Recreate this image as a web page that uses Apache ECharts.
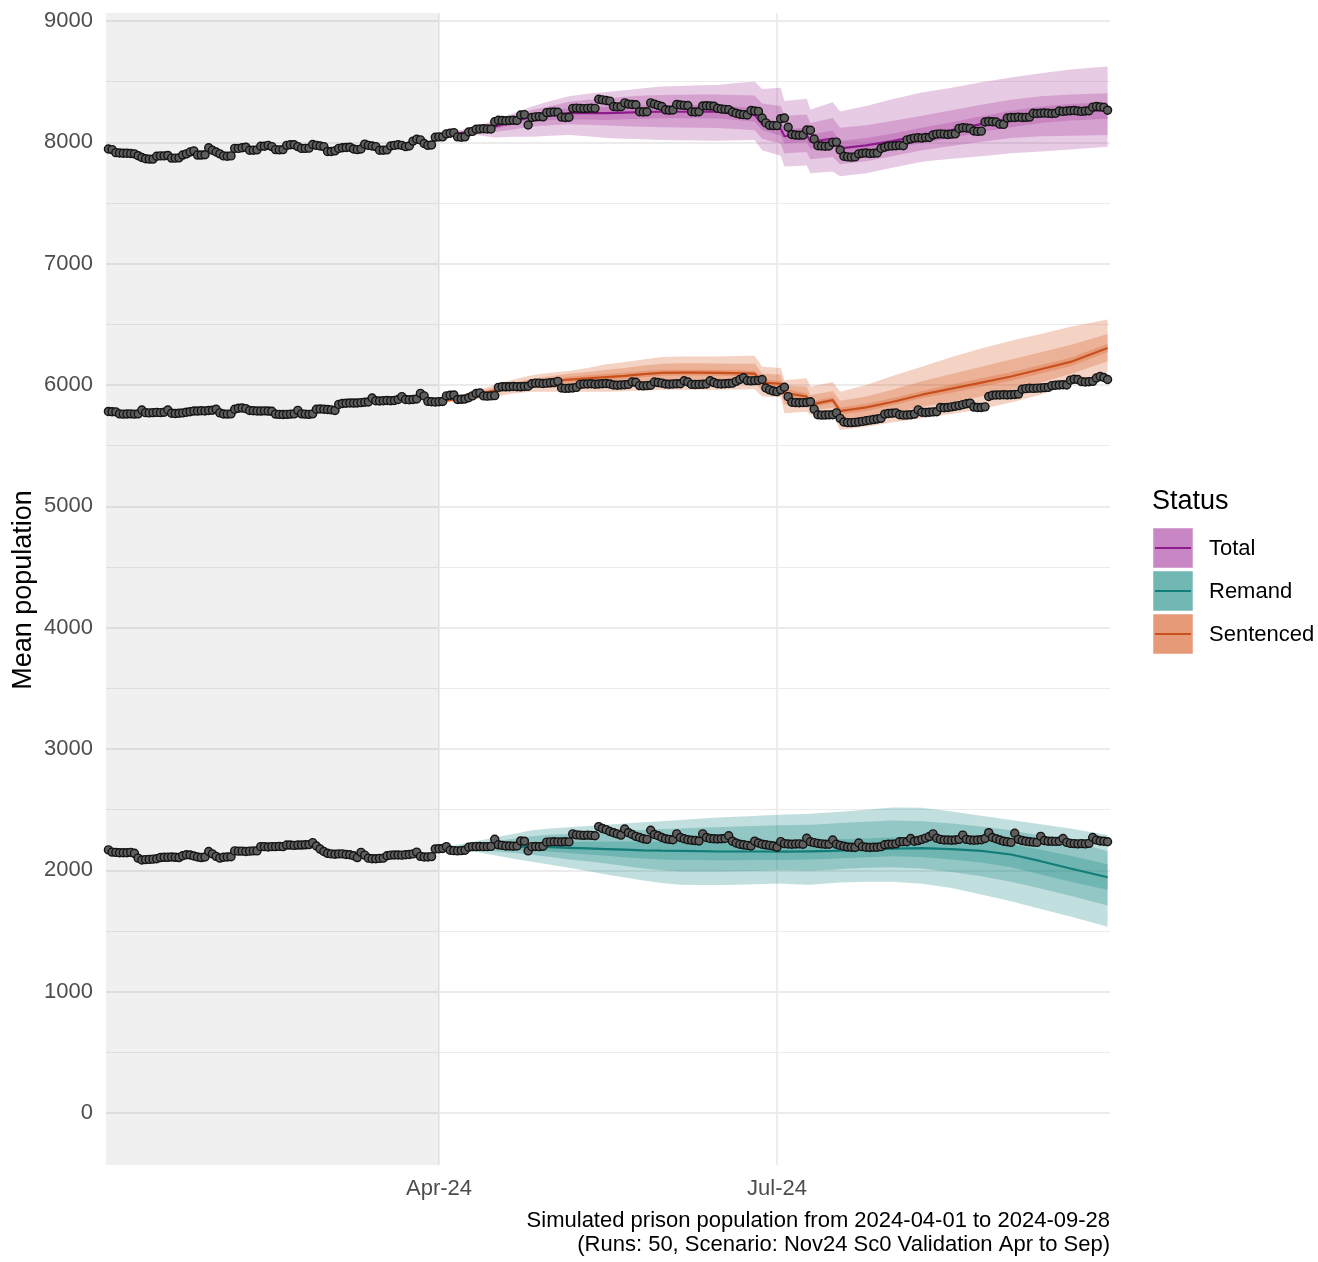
<!DOCTYPE html>
<html>
<head>
<meta charset="utf-8">
<script src="https://cdn.jsdelivr.net/npm/echarts@6/dist/echarts.min.js"></script>
<style>
html,body{margin:0;padding:0;background:#fff;}
#chart{width:1318px;height:1262px;}
</style>
</head>
<body>
<div id="chart"></div>
<script>
// Day index 0 = 2024-01-02 ... 270 = 2024-09-28 (daily observed values)
const startDate = '2024-01-02';
const xTickDays = [90, 181];
const xTickLabels = ['Apr-24', 'Jul-24'];
const yTicks = [0, 1000, 2000, 3000, 4000, 5000, 6000, 7000, 8000, 9000];
const yMinorTicks = [500, 1500, 2500, 3500, 4500, 5500, 6500, 7500, 8500];
const statusNames = ['Total', 'Remand', 'Sentenced'];
const captionLines = ['Simulated prison population from 2024-04-01 to 2024-09-28',
                      '(Runs: 50, Scenario: Nov24 Sc0 Validation Apr to Sep)'];

const obsTotal = [
7854,7945,7940,7915,7912,7910,7910,7908,7905,7890,
7875,7865,7862,7862,7885,7888,7888,7892,7870,7870,
7872,7895,7905,7920,7930,7895,7895,7898,7955,7935,
7920,7905,7888,7885,7888,7950,7950,7955,7960,7935,
7935,7938,7968,7968,7975,7965,7940,7938,7940,7975,
7980,7980,7965,7950,7950,7952,7982,7975,7970,7965,
7925,7925,7930,7950,7955,7958,7960,7945,7940,7945,
7985,7975,7970,7965,7935,7935,7938,7970,7975,7980,
7975,7965,7970,8010,8025,8020,7990,7975,7978,8042,
8045,8045,8070,8075,8080,8045,8042,8045,8085,8090,
8108,8110,8112,8110,8110,8170,8182,8180,8178,8180,
8182,8180,8225,8228,8143,8205,8210,8212,8210,8245,
8248,8250,8248,8208,8205,8207,8280,8282,8280,8278,
8280,8282,8280,8355,8350,8345,8340,8295,8292,8294,
8325,8315,8312,8310,8252,8250,8252,8325,8315,8305,
8295,8268,8265,8267,8312,8308,8305,8303,8252,8250,
8252,8300,8302,8300,8298,8280,8275,8272,8270,8250,
8240,8232,8228,8225,8262,8258,8255,8200,8160,8140,
8138,8138,8195,8200,8124,8065,8060,8058,8060,8102,
8100,8027,7972,7970,7968,7970,8000,8002,7937,7885,
7880,7878,7880,7905,7910,7912,7908,7910,7912,7950,
7960,7968,7970,7972,7975,7972,8020,8028,8035,8038,
8035,8040,8040,8060,8068,8070,8068,8065,8068,8070,
8115,8120,8118,8115,8093,8090,8092,8168,8172,8170,
8168,8150,8148,8200,8205,8205,8208,8205,8206,8208,
8240,8238,8240,8242,8240,8238,8240,8258,8255,8258,
8260,8262,8258,8255,8258,8260,8290,8295,8292,8288,
8265];

const obsSentenced = [
5780,5782,5780,5778,5762,5760,5761,5762,5760,5762,
5794,5772,5770,5772,5774,5772,5775,5794,5767,5765,
5767,5770,5775,5780,5786,5785,5788,5786,5790,5792,
5800,5770,5761,5760,5762,5800,5808,5810,5805,5790,
5788,5786,5785,5787,5785,5783,5760,5758,5757,5758,
5760,5762,5791,5762,5760,5758,5762,5800,5802,5800,
5798,5795,5790,5840,5848,5850,5852,5851,5852,5855,
5858,5860,5893,5870,5868,5870,5872,5870,5872,5880,
5904,5880,5878,5880,5885,5931,5910,5865,5862,5860,
5862,5864,5910,5915,5918,5880,5882,5885,5895,5910,
5930,5935,5910,5908,5910,5912,5980,5986,5985,5986,
5988,5986,5985,5988,5990,6010,6015,6015,6012,6015,
6018,6020,6030,5975,5972,5973,5975,5980,6005,6008,
6008,6010,6006,6008,6010,6012,6008,6000,5998,6000,
6002,6005,6025,6022,5995,5993,5995,5998,6025,6020,
6015,6008,6006,6008,6010,6010,6035,6025,6005,6004,
6005,6006,6008,6035,6020,6010,6008,6010,6012,6015,
6030,6045,6060,6036,6034,6036,6038,6045,5975,5960,
5950,5945,5960,5981,5904,5858,5855,5854,5855,5856,
5862,5800,5755,5752,5753,5754,5755,5770,5725,5695,
5690,5690,5692,5695,5700,5705,5710,5715,5720,5725,
5760,5765,5767,5770,5755,5752,5753,5755,5760,5795,
5775,5773,5775,5778,5780,5815,5812,5815,5820,5825,
5830,5838,5845,5850,5818,5815,5815,5820,5905,5915,
5918,5918,5920,5918,5920,5922,5925,5965,5970,5973,
5972,5974,5975,5978,5980,5995,5998,6000,6002,6000,
6040,6047,6045,6028,6025,6027,6030,6058,6070,6062,
6045];

const obsRemand = [
2085,2168,2150,2148,2145,2145,2145,2148,2140,2100,
2085,2088,2090,2092,2095,2105,2107,2107,2110,2107,
2105,2120,2128,2126,2118,2110,2105,2110,2155,2135,
2115,2100,2108,2110,2112,2160,2158,2158,2155,2158,
2160,2160,2195,2195,2192,2195,2195,2197,2195,2208,
2208,2205,2208,2208,2210,2212,2228,2200,2175,2155,
2140,2135,2132,2135,2135,2130,2128,2120,2105,2148,
2125,2100,2095,2095,2098,2100,2120,2125,2126,2126,
2125,2128,2130,2135,2150,2115,2110,2110,2113,2176,
2178,2180,2195,2165,2162,2160,2162,2165,2190,2195,
2195,2196,2195,2195,2197,2256,2210,2205,2200,2200,
2198,2200,2242,2240,2160,2195,2196,2195,2198,2232,
2234,2235,2234,2233,2235,2234,2300,2292,2290,2288,
2290,2288,2285,2360,2345,2335,2320,2310,2300,2290,
2340,2310,2295,2280,2270,2260,2255,2330,2295,2285,
2270,2260,2255,2252,2300,2270,2260,2252,2248,2245,
2242,2300,2270,2262,2260,2258,2260,2262,2285,2240,
2225,2215,2210,2205,2200,2240,2225,2215,2210,2205,
2200,2190,2236,2220,2217,2215,2217,2218,2215,2264,
2235,2228,2222,2218,2215,2215,2250,2215,2205,2198,
2192,2190,2188,2225,2195,2190,2188,2190,2190,2195,
2210,2215,2215,2218,2235,2236,2235,2262,2240,2245,
2255,2265,2278,2300,2265,2255,2250,2250,2248,2250,
2255,2290,2255,2250,2248,2250,2252,2262,2310,2270,
2260,2250,2240,2235,2230,2305,2255,2245,2240,2235,
2232,2230,2280,2245,2240,2240,2238,2240,2262,2230,
2222,2220,2218,2220,2218,2222,2270,2250,2242,2240,
2235];

// Projection (simulation) summary days
const projDays = [90,95,100,105,110,115,120,125,130,135,140,145,150,155,160,165,170,175,177,182,183,189,190,196,198,205,212,220,228,236,244,252,260,270];

const totMedian  = [8045,8070,8100,8130,8170,8212,8225,8240,8240,8240,8245,8250,8252,8252,8252,8252,8240,8225,8150,8110,8050,8060,8005,8030,7950,7975,8010,8060,8100,8150,8195,8230,8250,8267];
const totOuterLo = [8035,8045,8060,8040,8045,8047,8055,8060,8050,8035,8030,8025,8020,8018,8015,8014,8018,8020,7935,7890,7800,7810,7745,7760,7720,7745,7790,7840,7865,7885,7910,7925,7940,7964];
const totOuterHi = [8055,8095,8130,8185,8240,8295,8340,8380,8400,8415,8430,8445,8460,8465,8470,8473,8490,8500,8440,8450,8340,8360,8270,8330,8255,8300,8355,8410,8450,8495,8535,8570,8600,8625];
const totMidLo   = [8040,8055,8075,8085,8105,8130,8140,8150,8145,8138,8133,8128,8124,8122,8120,8118,8110,8100,8030,7990,7910,7920,7860,7880,7820,7845,7885,7935,7970,8005,8035,8050,8055,8060];
const totMidHi   = [8050,8085,8115,8160,8210,8267,8300,8335,8350,8362,8375,8385,8390,8392,8394,8395,8390,8385,8320,8300,8220,8230,8160,8200,8120,8140,8175,8220,8265,8310,8350,8380,8395,8405];
const totInnerLo = [8043,8062,8088,8110,8145,8175,8185,8188,8188,8185,8190,8195,8198,8198,8198,8196,8185,8170,8100,8055,7990,8000,7945,7965,7890,7915,7950,7995,8035,8085,8125,8160,8180,8195];
const totInnerHi = [8047,8078,8110,8150,8195,8240,8262,8280,8288,8292,8298,8303,8308,8308,8308,8308,8295,8280,8205,8165,8110,8120,8065,8095,8010,8035,8070,8120,8165,8215,8260,8295,8315,8330];

const senMedian  = [5862,5885,5920,5955,5990,6015,6030,6045,6055,6065,6075,6090,6100,6102,6102,6100,6098,6093,6020,6010,5935,5905,5838,5875,5785,5815,5860,5920,5970,6020,6070,6130,6190,6305];
const senOuterLo = [5855,5860,5880,5905,5930,5945,5945,5945,5945,5945,5948,5955,5960,5960,5960,5960,5962,5965,5905,5900,5768,5780,5753,5755,5630,5655,5690,5725,5760,5800,5855,5920,6010,6110];
const senOuterHi = [5870,5910,5955,6000,6045,6080,6100,6115,6140,6170,6190,6210,6230,6235,6235,6235,6238,6240,6150,6140,6040,6055,5985,6025,5945,6000,6075,6150,6230,6300,6365,6420,6480,6540];
const senMidLo   = [5858,5872,5900,5930,5960,5978,5980,5985,5990,5995,6000,6010,6020,6022,6022,6020,6020,6020,5950,5945,5840,5835,5790,5810,5700,5730,5770,5820,5860,5905,5960,6020,6090,6195];
const senMidHi   = [5866,5898,5940,5980,6020,6050,6072,6092,6108,6125,6140,6160,6175,6180,6180,6178,6176,6175,6095,6085,5995,5985,5915,5950,5870,5905,5960,6030,6090,6150,6210,6270,6330,6420];
const senInnerLo = [5860,5880,5912,5945,5978,6000,6010,6022,6030,6040,6050,6065,6075,6078,6078,6076,6074,6070,5995,5985,5900,5880,5815,5850,5755,5785,5830,5890,5935,5985,6035,6095,6155,6270];
const senInnerHi = [5864,5890,5928,5965,6002,6030,6050,6068,6080,6090,6100,6115,6125,6126,6126,6124,6122,6116,6045,6035,5970,5930,5862,5900,5815,5845,5890,5950,6005,6055,6105,6165,6225,6340];

const remMedian  = [2178,2185,2195,2195,2195,2195,2190,2185,2180,2175,2170,2165,2162,2160,2158,2155,2155,2155,2155,2154,2154,2156,2156,2160,2162,2168,2178,2182,2175,2160,2130,2075,2015,1943];
const remOuterLo = [2170,2165,2150,2125,2095,2070,2045,2020,1995,1965,1940,1915,1895,1880,1878,1878,1880,1885,1888,1892,1890,1880,1880,1895,1900,1905,1906,1890,1855,1800,1745,1680,1620,1535];
const remOuterHi = [2186,2210,2240,2270,2300,2330,2345,2355,2365,2375,2385,2395,2405,2415,2425,2435,2442,2448,2452,2458,2460,2465,2466,2478,2483,2500,2518,2515,2485,2450,2415,2380,2345,2290];
const remMidLo   = [2174,2175,2170,2158,2143,2128,2110,2090,2075,2055,2035,2015,2000,1990,1990,1990,1992,1995,1997,2000,2000,1997,1997,2005,2010,2020,2025,2015,1985,1950,1905,1850,1790,1710];
const remMidHi   = [2182,2198,2220,2240,2260,2280,2292,2300,2310,2318,2325,2333,2340,2345,2350,2355,2360,2365,2368,2372,2372,2375,2375,2385,2390,2400,2410,2405,2385,2360,2330,2285,2240,2160];
const remInnerLo = [2176,2180,2183,2178,2170,2162,2152,2142,2130,2120,2108,2098,2090,2085,2085,2083,2083,2085,2085,2085,2085,2088,2088,2095,2100,2108,2115,2110,2090,2065,2025,1965,1905,1840];
const remInnerHi = [2180,2190,2207,2215,2222,2230,2232,2232,2235,2236,2236,2236,2236,2236,2236,2237,2238,2240,2242,2244,2244,2246,2246,2250,2255,2262,2270,2272,2262,2245,2215,2170,2120,2050];

// ---- styling ----
const FONT = '"Liberation Sans", Arial, sans-serif';
const X_MIN = 0.35, X_MAX = 270.65, Y_MIN = -429, Y_MAX = 9066;
const styles = {
  Total:     {band: 'rgba(158,44,149,0.25)', line: '#8e1c8c', key: '#c886c4'},
  Remand:    {band: 'rgba(6,127,122,0.25)',  line: '#137d79', key: '#71b7b4'},
  Sentenced: {band: 'rgba(210,80,18,0.25)',  line: '#c8501c', key: '#e69a78'}
};

function ribbon(name, lo, hi) {
  const data = projDays.map((d, i) => [d, lo[i], hi[i]]);
  return {
    type: 'custom', name: name, z: 2, silent: true, clip: true,
    data: data,
    encode: {x: 0, y: [1, 2]},
    renderItem: function (params, api) {
      if (params.dataIndex !== 0) return null;
      const top = data.map(r => api.coord([r[0], r[2]]));
      const bot = data.slice().reverse().map(r => api.coord([r[0], r[1]]));
      return {type: 'polygon', shape: {points: top.concat(bot)},
              style: {fill: styles[name].band, stroke: null}};
    }
  };
}
function medianLine(name, med) {
  return {type: 'line', name: name, z: 3, silent: true, symbol: 'none',
    data: projDays.map((d, i) => [d, med[i]]),
    lineStyle: {color: styles[name].line, width: 2.2}};
}
function observed(name, vals) {
  return {type: 'scatter', name: name + ' observed', z: 4, silent: true,
    symbol: 'circle', symbolSize: 8,
    data: vals.map((v, i) => [i, v]),
    itemStyle: {color: '#5e5e5e', borderColor: '#141414', borderWidth: 1.4, opacity: 1}};
}

const gridLines = [];
yTicks.forEach(v => gridLines.push({yAxis: v, lineStyle: {width: 1.8}}));
yMinorTicks.forEach(v => gridLines.push({yAxis: v, lineStyle: {width: 1.1}}));
xTickDays.forEach(v => gridLines.push({xAxis: v, lineStyle: {width: 1.8}}));

const series = [
  {type: 'line', name: 'background', data: [], silent: true,
   markLine: {silent: true, z: 0, symbol: ['none', 'none'], animation: false,
     label: {show: false}, emphasis: {disabled: true},
     lineStyle: {color: '#ebebeb', type: 'solid'}, data: gridLines},
   markArea: {silent: true, z: 1, animation: false,
     itemStyle: {color: 'rgba(0,0,0,0.06)'}, label: {show: false},
     data: [[{xAxis: X_MIN}, {xAxis: xTickDays[0]}]]}
  },
  ribbon('Total', totOuterLo, totOuterHi), ribbon('Total', totMidLo, totMidHi), ribbon('Total', totInnerLo, totInnerHi),
  ribbon('Sentenced', senOuterLo, senOuterHi), ribbon('Sentenced', senMidLo, senMidHi), ribbon('Sentenced', senInnerLo, senInnerHi),
  ribbon('Remand', remOuterLo, remOuterHi), ribbon('Remand', remMidLo, remMidHi), ribbon('Remand', remInnerLo, remInnerHi),
  medianLine('Total', totMedian), medianLine('Sentenced', senMedian), medianLine('Remand', remMedian),
  observed('Total', obsTotal), observed('Sentenced', obsSentenced), observed('Remand', obsRemand)
];

// legend & text graphics
const graphics = [];
graphics.push({type: 'text', x: 1152, y: 502, style: {text: 'Status', font: '27px ' + FONT, fill: '#000', align: 'left', verticalAlign: 'middle'}});
statusNames.forEach((n, i) => {
  const top = 528 + i * 43;
  graphics.push({type: 'rect', shape: {x: 1153, y: top, width: 40, height: 40}, style: {fill: styles[n].key, stroke: 'rgba(255,255,255,0.5)', lineWidth: 1}});
  graphics.push({type: 'line', shape: {x1: 1155, y1: top + 20, x2: 1191, y2: top + 20}, style: {stroke: styles[n].line, lineWidth: 2}});
  graphics.push({type: 'text', x: 1209, y: top + 21, style: {text: n, font: '22px ' + FONT, fill: '#000', align: 'left', verticalAlign: 'middle'}});
});
captionLines.forEach((t, i) => {
  graphics.push({type: 'text', x: 1110, y: 1221 + i * 24, style: {text: t, font: '22px ' + FONT, fill: '#000', align: 'right', verticalAlign: 'middle'}});
});
graphics.push({type: 'text', x: 24, y: 590, rotation: Math.PI / 2,
  style: {text: 'Mean population', font: '27px ' + FONT, fill: '#000', align: 'center', verticalAlign: 'middle'}});

const chart = echarts.init(document.getElementById('chart'), null, {renderer: 'canvas'});
chart.setOption({
  animation: false,
  backgroundColor: '#ffffff',
  grid: {left: 106, right: 208, top: 13, bottom: 97, containLabel: false},
  xAxis: {
    type: 'value', min: X_MIN, max: X_MAX,
    axisLine: {show: false}, axisTick: {show: false, customValues: xTickDays}, splitLine: {show: false},
    axisLabel: {customValues: xTickDays, margin: 13, color: '#4d4d4d', fontSize: 22, fontFamily: FONT,
      formatter: v => { const k = xTickDays.findIndex(d => Math.abs(d - v) < 0.01); return k >= 0 ? xTickLabels[k] : ''; }}
  },
  yAxis: {
    type: 'value', min: Y_MIN, max: Y_MAX,
    axisLine: {show: false}, axisTick: {show: false, customValues: yTicks}, splitLine: {show: false},
    axisLabel: {customValues: yTicks, margin: 13, color: '#4d4d4d', fontSize: 22, fontFamily: FONT,
      formatter: v => String(Math.round(v))}
  },
  series: series,
  graphic: graphics
});
</script>
</body>
</html>
